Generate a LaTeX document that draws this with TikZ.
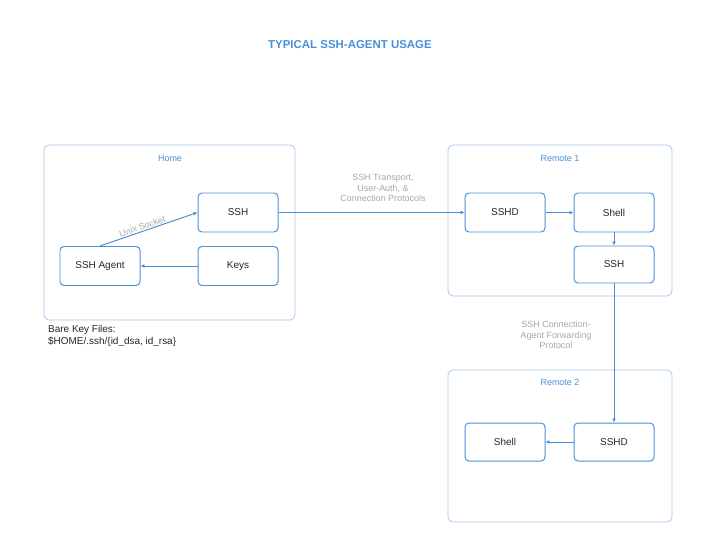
\documentclass[tikz,border=0pt]{standalone}
\usepackage{fontspec}
\setmainfont{Liberation Sans}
\usetikzlibrary{arrows.meta}
\definecolor{bl}{HTML}{4A90D9}
\definecolor{cb}{HTML}{A9C8EC}
\definecolor{gt}{HTML}{A8A8A8}
\begin{document}
\begin{tikzpicture}[x=1bp,y=-1bp,
 cont/.style={draw=cb,line width=0.8pt,rounded corners=5pt},
 box/.style={draw=bl,line width=1pt,rounded corners=4pt,minimum width=80bp,minimum height=39bp,font=\fontsize{10}{11}\selectfont,text=black!85},
 clab/.style={text=bl,font=\fontsize{9}{10}\selectfont},
 elab/.style={text=gt,font=\fontsize{9}{10.5}\selectfont,align=center},
 ar/.style={draw=bl,line width=1pt,-{Latex[length=4pt,width=4pt]}}]
\useasboundingbox[fill=white] (0,0) rectangle (720,556);
\node[text=bl,font=\bfseries\fontsize{11.5}{13}\selectfont] (title) at (350,45) {TYPICAL SSH-AGENT USAGE};
\draw[cont] (44,145) rectangle (295,320);
\draw[cont] (448,145) rectangle (672,296);
\draw[cont] (448,370) rectangle (672,522);
\node[clab] (lh) at (170,158) {Home};
\node[clab] (lr1) at (560,158) {Remote 1};
\node[clab] (lr2) at (560,382) {Remote 2};
\node[box] (ssh) at (238,212.5) {SSH};
\node[box] (keys) at (238,266) {Keys};
\node[box] (agent) at (100,266) {SSH Agent};
\node[box] (sshd1) at (505,212.5) {SSHD};
\node[box] (shell1) at (614,212.5) {Shell};
\node[box,minimum height=37bp] (ssh1) at (614,264.5) {SSH};
\node[box,minimum height=38bp] (shell2) at (505,442) {Shell};
\node[box,minimum height=38bp] (sshd2) at (614,442) {SSHD};
\node[anchor=north west,align=left,font=\fontsize{10}{12}\selectfont,text=black!85,inner sep=0] (bare) at (48,325) {Bare Key Files:\\\$HOME/.ssh/\{id\_dsa, id\_rsa\}};
\draw[ar] (agent.north) -- node[elab,sloped,above,pos=0.45,inner sep=1pt] {Unix Socket} (ssh.west);
\draw[ar] (keys) -- (agent);
\draw[ar] (ssh) -- (sshd1);
\node[elab] (tl) at (383,188) {SSH Transport,\\User-Auth, \&\\Connection Protocols};
\draw[ar] (sshd1) -- (shell1);
\draw[ar] (shell1) -- (ssh1);
\draw[ar] (ssh1) -- (sshd2);
\node[elab] (ml) at (556,335) {SSH Connection-\\Agent Forwarding\\Protocol};
\draw[ar] (sshd2) -- (shell2);
\end{tikzpicture}
\end{document}
